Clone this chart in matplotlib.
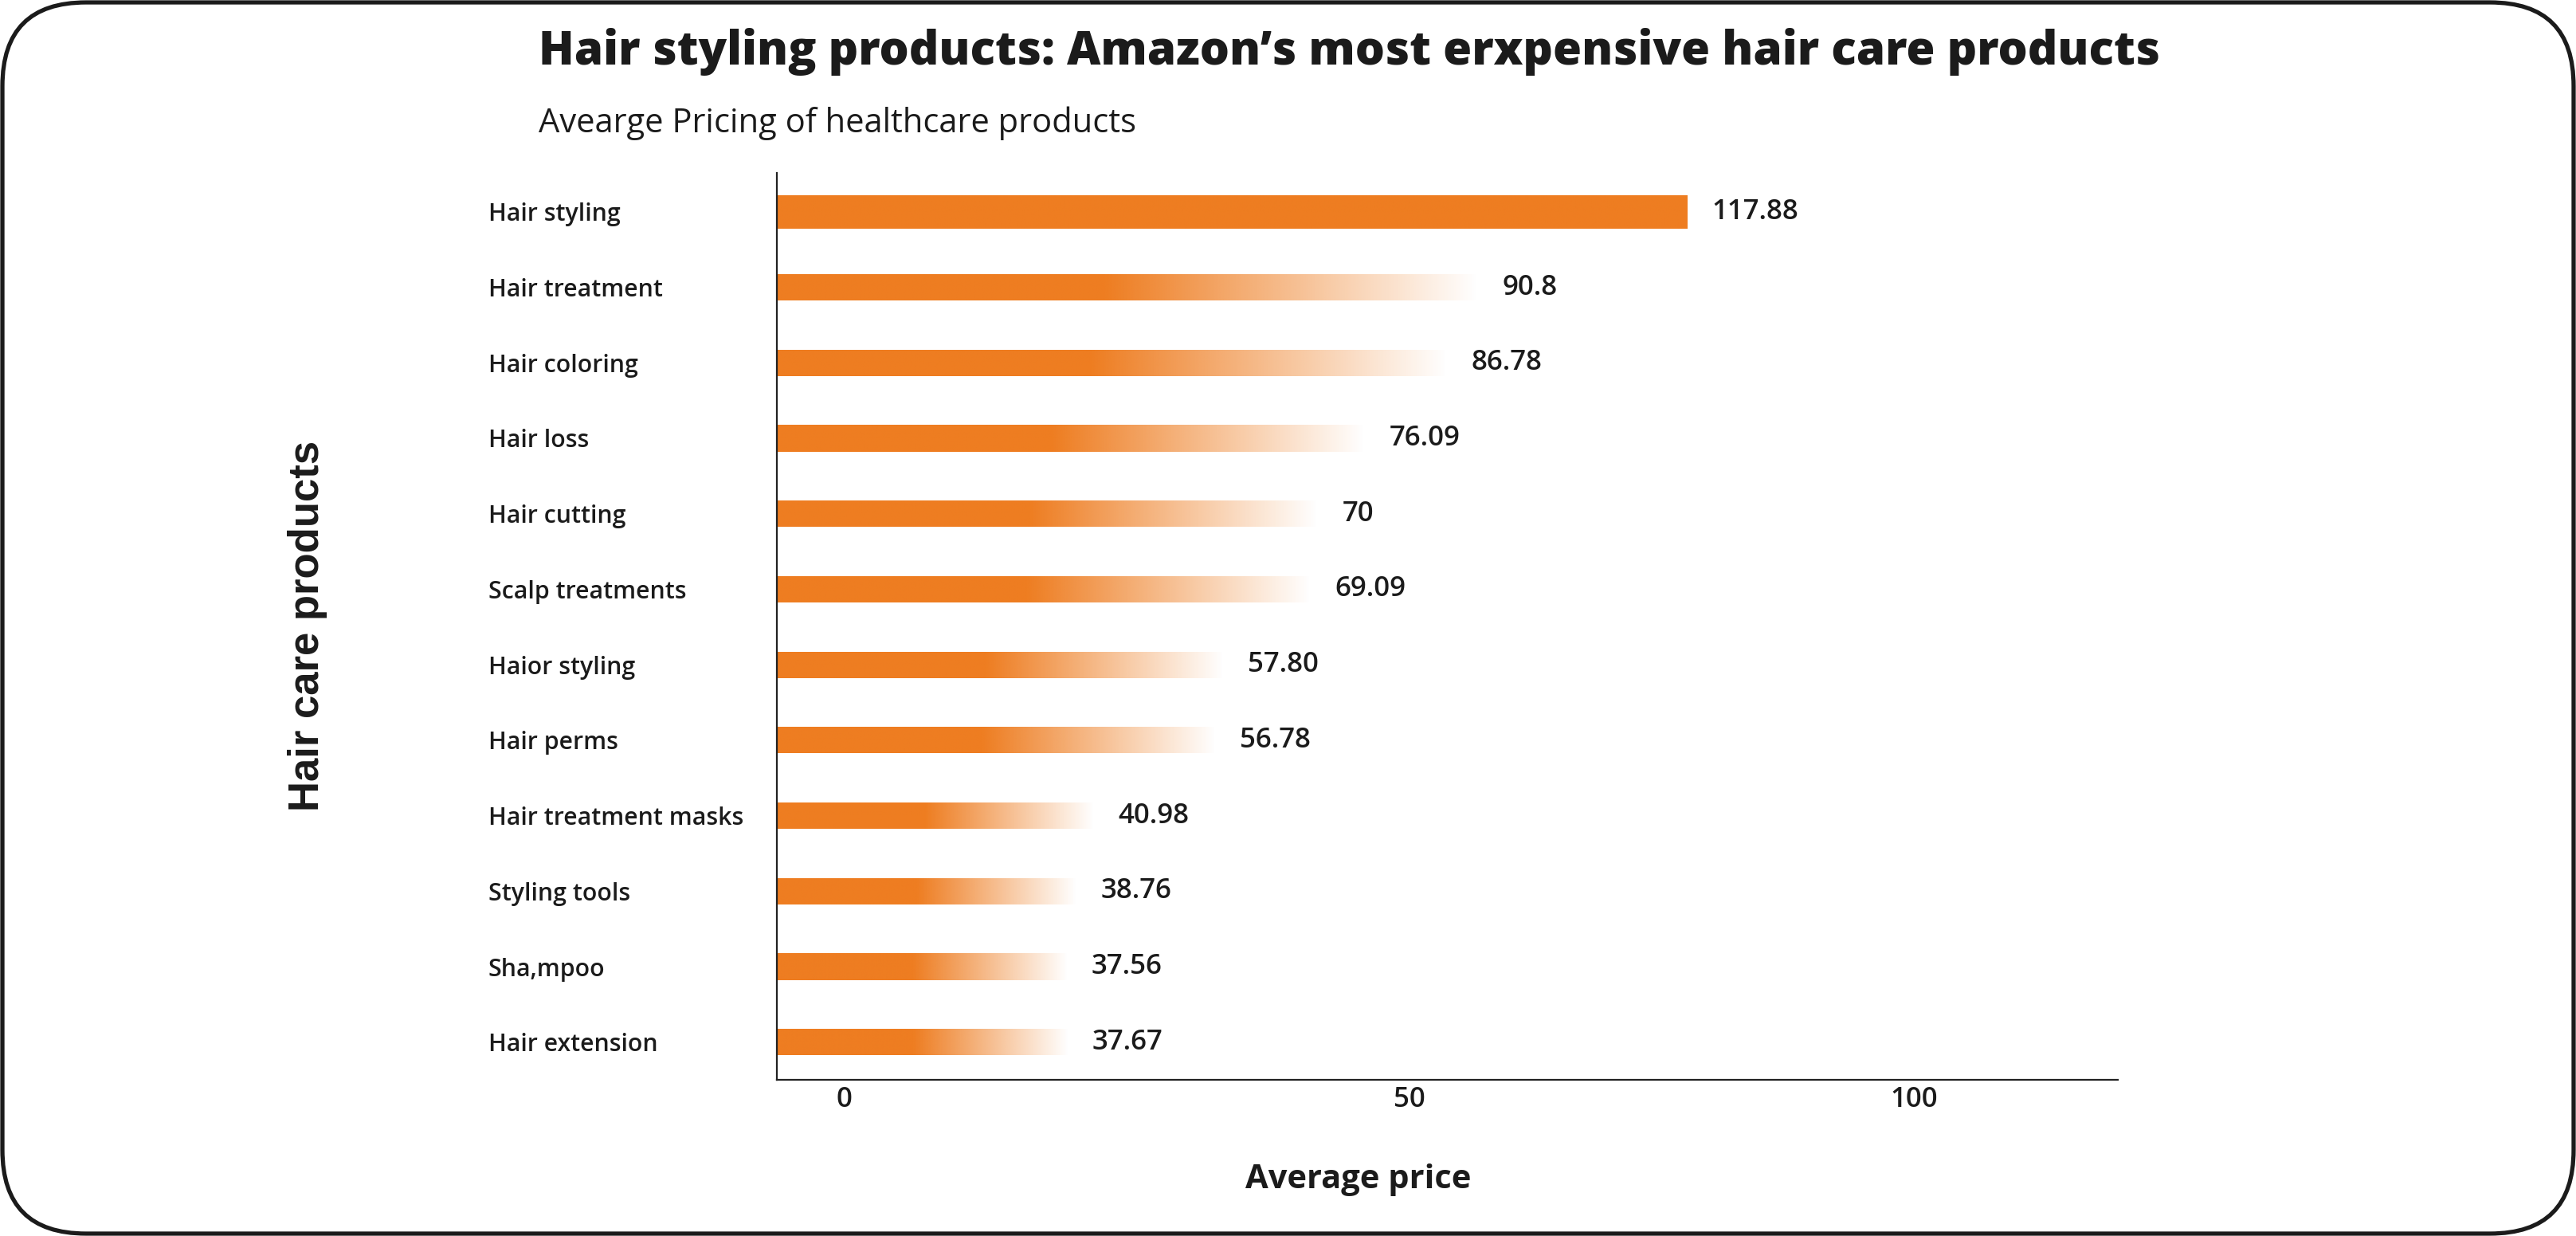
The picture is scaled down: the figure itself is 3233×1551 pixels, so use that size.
import numpy as np
import matplotlib
matplotlib.use("Agg")
import matplotlib.pyplot as plt
from matplotlib.patches import FancyBboxPatch

# data
categories = ["Hair styling", "Hair treatment", "Hair coloring", "Hair loss",
              "Hair cutting", "Scalp treatments", "Haior styling", "Hair perms",
              "Hair treatment masks", "Styling tools", "Sha,mpoo", "Hair extension"]
prices = [117.88, 90.8, 86.78, 76.09, 70, 69.09, 57.80, 56.78, 40.98, 38.76, 37.56, 37.67]
price_labels = ["117.88", "90.8", "86.78", "76.09", "70", "69.09", "57.80", "56.78",
                "40.98", "38.76", "37.56", "37.67"]
tick_labels = ["0", "50", "100"]

title = "Hair styling products: Amazon\u2019s most erxpensive hair care products"
subtitle = "Avearge Pricing of healthcare products"

ORANGE = "#EE7D21"
TEXT = "#1b1b1b"
FONT = "Open Sans"

W, H = 3233, 1551
fig = plt.figure(figsize=(W / 100, H / 100), dpi=100)
fig.patch.set_facecolor("white")

# rounded frame round the whole picture
frame = FancyBboxPatch((0.03, 0.03), W / 100 - 0.06, H / 100 - 0.06,
                       boxstyle="round,pad=0,rounding_size=1.05",
                       transform=fig.dpi_scale_trans, facecolor="none",
                       edgecolor="#1b1b1b", linewidth=3.8)
fig.patches.append(frame)

ax = fig.add_axes([0.3017, 0.1263, 0.8221 - 0.3017, 0.8604 - 0.1263])

y = np.arange(len(categories))
heights = [0.44] + [0.35] * (len(categories) - 1)
bars = ax.barh(y, prices, height=heights, color="none", edgecolor="none")

# gradient fill: solid for the first half, then fading out (first bar solid)
rgb = matplotlib.colors.to_rgb(ORANGE)
for i, bar in enumerate(bars):
    t = np.linspace(0, 1, 400)
    if i == 0:
        alpha = np.ones_like(t)
    else:
        alpha = np.clip((1 - t) / (1 - 0.47), 0, 1)
    img = np.zeros((1, len(t), 4))
    img[0, :, :3] = rgb
    img[0, :, 3] = alpha
    x0, y0 = bar.get_x(), bar.get_y()
    im = ax.imshow(img, extent=(x0, x0 + bar.get_width(), y0, y0 + bar.get_height()),
                   aspect="auto", interpolation="bilinear", zorder=2)
    im.set_clip_path(bar)

ax.bar_label(bars, labels=price_labels, padding=22, fontsize=25, fontweight="semibold",
             color=TEXT, family=FONT)

ax.set_xlim(0, 173.6)
ax.set_ylim(len(categories) - 0.5, -0.52)

# tick labels sit where the reference puts them
ax.set_xticks([8.7, 81.9, 147.2])
ax.set_xticklabels(tick_labels, fontsize=25, fontweight="semibold", color=TEXT, family=FONT)
ax.tick_params(axis="x", length=0, pad=6)

ax.set_yticks(y)
ax.set_yticklabels(categories, fontsize=21.8, fontweight="semibold", color=TEXT, family=FONT,
                   ha="left")
ax.tick_params(axis="y", length=0, pad=261)

for side in ["top", "right"]:
    ax.spines[side].set_visible(False)
for side in ["left", "bottom"]:
    ax.spines[side].set_color("#222222")
    ax.spines[side].set_linewidth(1.6)

fig.text(0.2091, 0.958, title, fontsize=42, fontweight="heavy", color=TEXT, family=FONT,
         va="center", ha="left")
fig.text(0.2091, 0.900, subtitle, fontsize=30, color=TEXT, family=FONT,
         va="center", ha="left")
fig.text(0.5274, 0.0455, "Average price", fontsize=30, fontweight="bold", color=TEXT,
         family=FONT, va="center", ha="center")
fig.text(0.1194, 0.4934, "Hair care products", fontsize=38, fontweight="bold", color=TEXT,
         family="Liberation Sans", rotation=90, va="center", ha="center")

fig.savefig("out.png", dpi=100, facecolor="white")
